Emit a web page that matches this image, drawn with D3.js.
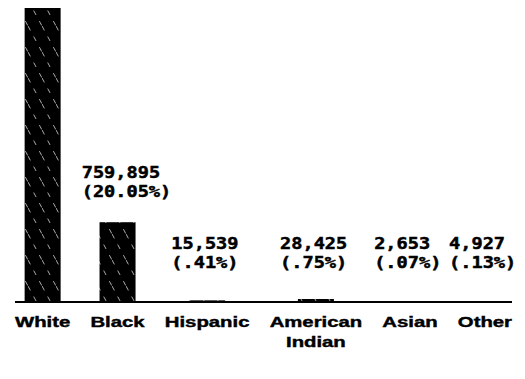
<!DOCTYPE html>
<html>
<head>
<meta charset="utf-8">
<script src="https://cdn.jsdelivr.net/npm/d3@7/dist/d3.min.js"></script>
<style>
  html, body { margin: 0; padding: 0; background: #fff; }
  svg { display: block; }
</style>
</head>
<body>
<svg id="chart" width="525" height="379"></svg>
<script>
// Population by race / ethnic group
const categories = ["White", "Black", "Hispanic", "American Indian", "Asian", "Other"];
const categoryLines = [["White"], ["Black"], ["Hispanic"], ["American", "Indian"], ["Asian"], ["Other"]];
const population = [2978600, 759895, 15539, 28425, 2653, 4927];
const percentLabels = ["(78.59%)", "(20.05%)", "(.41%)", "(.75%)", "(.07%)", "(.13%)"];
const labelled = [false, true, true, true, true, true];

const width = 525, height = 379;
const left = 15, right = 512;
const baseY = 302, topY = 8;
const barWidth = 36;

const svg = d3.select("#chart");

const defs = svg.append("defs");
const hatch = defs.append("pattern")
  .attr("id", "hatch")
  .attr("patternUnits", "userSpaceOnUse")
  .attr("width", 14).attr("height", 26);
hatch.append("rect").attr("width", 14).attr("height", 26).attr("fill", "#000");
hatch.append("line")
  .attr("x1", 0).attr("y1", 0).attr("x2", 14).attr("y2", 26)
  .attr("stroke", "#fff").attr("stroke-width", 0.9)
  .attr("stroke-dasharray", "5,7").attr("opacity", 0.75);

// Category labels: wide bold sans, laid out across the baseline
const labelFont = "'Liberation Sans', Arial, sans-serif";
const stretch = 1.45;
const catG = svg.append("g");
const blocks = categoryLines.map((lines, i) => {
  const g = catG.append("g");
  const texts = lines.map((s, j) => g.append("text")
    .attr("y", 327 + j * 20)
    .attr("font-family", labelFont)
    .attr("font-weight", "bold")
    .attr("font-size", 14)
    .attr("fill", "#000")
    .attr("stroke", "#000")
    .attr("stroke-width", 0.4)
    .text(s));
  const widths = texts.map(t => t.node().getComputedTextLength() * stretch);
  texts.forEach((t, j) => t.attr("textLength", widths[j]).attr("lengthAdjust", "spacingAndGlyphs"));
  return { g, texts, widths, w: d3.max(widths) };
});
const totalW = d3.sum(blocks, b => b.w);
const gap = (right - left - totalW) / (blocks.length - 1);
const centers = [];
let cursor = left;
blocks.forEach(b => { centers.push(cursor + b.w / 2); cursor += b.w + gap; });
blocks.forEach((b, i) => {
  b.texts.forEach((t, j) => t.attr("x", centers[i] - b.widths[j] / 2));
});

const x = d3.scaleOrdinal().domain(categories).range(centers);
const y = d3.scaleLinear().domain([0, 2800000]).range([baseY, topY]).clamp(true);

// Bars
svg.append("g").selectAll("rect")
  .data(categories)
  .join("rect")
  .attr("x", (d) => x(d) - barWidth / 2)
  .attr("y", (d, i) => y(population[i]))
  .attr("width", barWidth)
  .attr("height", (d, i) => baseY - y(population[i]))
  .attr("fill", "url(#hatch)");

// Baseline
svg.append("line")
  .attr("x1", left).attr("x2", right)
  .attr("y1", baseY).attr("y2", baseY)
  .attr("stroke", "#000").attr("stroke-width", 2);

// Value labels in typewriter style
const fmt = d3.format(",");
const monoFont = "'DejaVu Sans Mono', 'Liberation Mono', monospace";
const charW = 11.2;
const lineGap = 19.5;
const valG = svg.append("g");
categories.forEach((c, i) => {
  if (!labelled[i]) return;
  const lines = [fmt(population[i]), percentLabels[i]];
  const x0 = x(c) - 3.2 * charW;
  const y2 = Math.min(y(population[i]) - 25, baseY - 34);
  lines.forEach((s, j) => valG.append("text")
    .attr("x", x0)
    .attr("y", y2 - (1 - j) * lineGap)
    .attr("font-family", monoFont)
    .attr("font-weight", "bold")
    .attr("font-size", 16.5)
    .attr("textLength", s.length * charW)
    .attr("lengthAdjust", "spacingAndGlyphs")
    .attr("fill", "#000")
    .attr("stroke", "#000")
    .attr("stroke-width", 0.5)
    .text(s));
});
</script>
</body>
</html>
